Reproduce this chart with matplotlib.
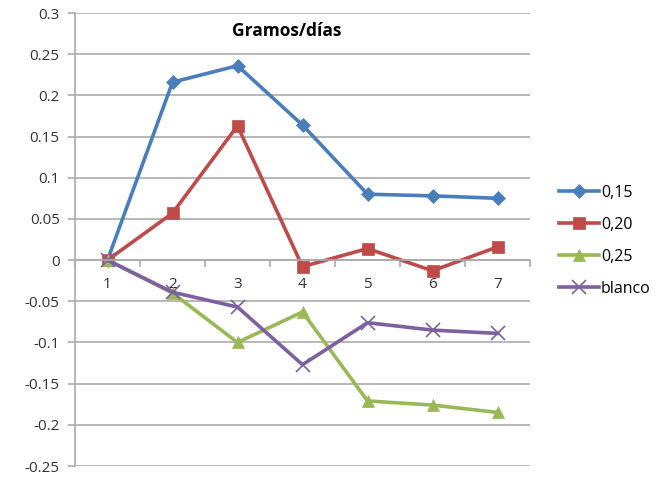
import matplotlib
matplotlib.use("Agg")
import matplotlib.pyplot as plt
import numpy as np

plt.rcParams['font.family'] = ['Open Sans', 'DejaVu Sans']

dias = [1, 2, 3, 4, 5, 6, 7]
s015 = [0.0, 0.216, 0.236, 0.164, 0.080, 0.078, 0.075]
s020 = [0.0, 0.057, 0.163, -0.008, 0.014, -0.013, 0.016]
s025 = [0.0, -0.040, -0.100, -0.063, -0.171, -0.176, -0.185]
blanco = [0.0, -0.039, -0.057, -0.127, -0.076, -0.085, -0.089]

series = [
    ("0,15", s015, "#4A7EBB", "D", 7),
    ("0,20", s020, "#BE4B48", "s", 9),
    ("0,25", s025, "#98B954", "^", 9),
    ("blanco", blanco, "#7D60A0", "x", 10),
]

fig = plt.figure(figsize=(6.56, 4.79), dpi=100)
ax = fig.add_axes([75/656, 1-466/479, 455/656, 453/479])

for name, vals, col, mk, ms in series:
    ax.plot(dias, vals, color=col, lw=2.6, marker=mk, ms=ms,
            mew=1.2 if mk == "x" else 0.5, mec=col, mfc=col, label=name,
            solid_joinstyle='round', clip_on=False)

ax.set_xlim(0.5, 7.5)
ax.set_ylim(-0.25, 0.3)
yt = np.arange(-0.25, 0.301, 0.05)
ax.set_yticks(yt)
ax.set_yticklabels(['0' if abs(v) < 1e-9 else ('%g' % round(v, 2)) for v in yt])
ax.yaxis.grid(True, color='#ABABAB', lw=1.2)
ax.set_axisbelow(True)

ax.spines['top'].set_visible(False)
ax.spines['right'].set_visible(False)
ax.spines['left'].set_color('#ABABAB')
ax.spines['left'].set_linewidth(1.2)
ax.spines['bottom'].set_position(('data', 0))
ax.spines['bottom'].set_color('#ABABAB')
ax.spines['bottom'].set_linewidth(1.2)

ax.set_xticks(np.arange(0.5, 7.6, 1))
ax.set_xticklabels([])
ax.set_xticks(dias, minor=True)
ax.set_xticklabels([str(d) for d in dias], minor=True)
ax.tick_params(axis='x', which='major', length=5, color='#ABABAB', width=1.2)
ax.tick_params(axis='x', which='minor', length=0, pad=12, labelsize=11, labelcolor='#333333')
ax.tick_params(axis='y', length=5, color='#ABABAB', width=1.2, labelsize=11, labelcolor='#333333', pad=6)

fig.text(287/656, 1-31/479, "Gramos/días", ha='center', va='center',
         fontsize=12.5, fontweight='bold', color='#000000')

leg = ax.legend(loc='center left', bbox_to_anchor=(545/656, 1-241/479),
                bbox_transform=fig.transFigure, frameon=False, fontsize=11.5,
                handlelength=2.5, labelspacing=1.0, handletextpad=0.1)

fig.savefig("out.png", dpi=100)
